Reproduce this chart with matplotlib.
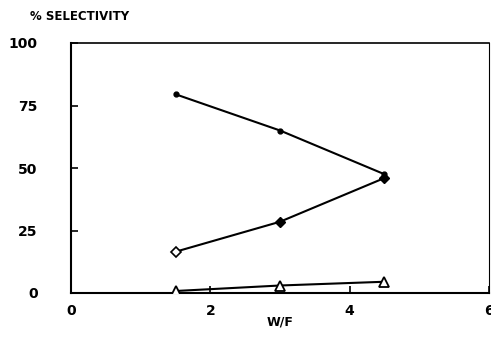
import matplotlib
matplotlib.use("Agg")
import matplotlib.pyplot as plt

wf = [1.5, 3.0, 4.5]
series_circle = [79.5, 65, 47.5]
series_diamond = [16.5, 28.5, 46]
series_triangle = [0.8, 3, 4.5]
xticks = [0, 2, 4, 6]
yticks = [0, 25, 50, 75, 100]

plt.rcParams['font.family'] = ['DejaVu Sans']
fig = plt.figure(figsize=(4.91, 3.38), dpi=100)
ax = fig.add_axes([71/491, 1-293/338, 418/491, 250/338])

ax.plot(wf, series_circle, color='black', lw=1.5, marker='o', ms=3.5, zorder=3)
ax.plot(wf, series_diamond, color='black', lw=1.5, zorder=3)
ax.plot(wf[:1], series_diamond[:1], ls='none', marker='D', ms=5, mfc='white', mec='black', mew=1.2, zorder=4)
ax.plot(wf[1:], series_diamond[1:], ls='none', marker='D', ms=5, mfc='black', mec='black', zorder=4)
ax.plot(wf, series_triangle, color='black', lw=1.5, marker='^', ms=7, mfc='white', mec='black', mew=1.3, zorder=4)

ax.set_xlim(0, 6)
ax.set_ylim(0, 100)
ax.set_xticks(xticks)
ax.set_yticks(yticks)
ax.tick_params(direction='in', length=5, width=1.2, labelsize=10)
ax.tick_params(axis='x', pad=8)
ax.tick_params(axis='y', pad=24)
for lab in ax.get_xticklabels() + ax.get_yticklabels():
    lab.set_fontweight('bold')
for s in ax.spines.values():
    s.set_linewidth(1.5)
ax.spines['top'].set_linewidth(1.2)
ax.spines['right'].set_linewidth(0.8)

fig.text(30/491, 1-17/338, '% SELECTIVITY', fontsize=8.5, fontweight='bold', va='center', ha='left')
fig.text(280/491, 1-322/338, 'W/F', fontsize=9, fontweight='bold', va='center', ha='center')

fig.savefig('out.png', dpi=100)
